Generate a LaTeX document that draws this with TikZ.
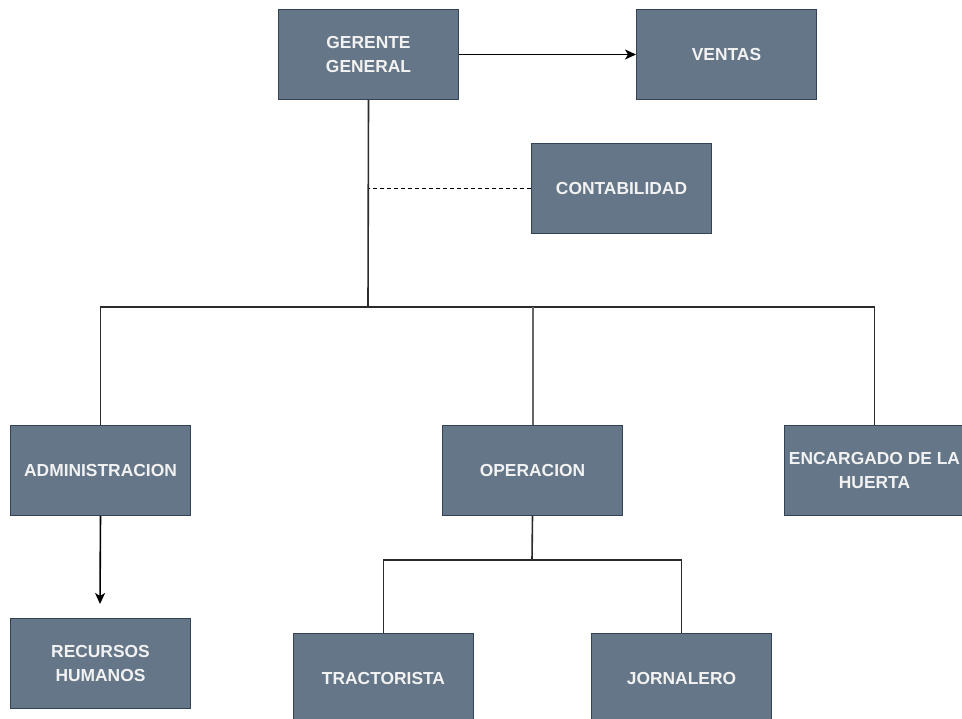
\documentclass[tikz,border=0pt]{standalone}
\usepackage{fontspec}
\setmainfont{Liberation Sans}
\usetikzlibrary{arrows.meta}
\definecolor{boxfill}{HTML}{647687}
\definecolor{boxline}{HTML}{314354}
\definecolor{wire}{HTML}{2B2B2B}
\definecolor{trunk}{HTML}{666666}
\definecolor{label}{HTML}{F2F2F2}
\begin{document}
\begin{tikzpicture}[x=1pt,y=-1pt,
  unit/.style={draw=boxline, line width=1pt, fill=boxfill,
    minimum width=180pt, minimum height=90pt, inner sep=0pt,
    text=label, font=\fontsize{17.4}{24}\selectfont\bfseries,
    align=center, anchor=north west},
  link/.style={draw=wire, line width=1.6pt},
  tip/.style={-{Stealth[length=11pt,width=10pt,inset=3pt]}}]
\clip (0,0) rectangle (962,719);
\fill[white] (0,0) rectangle (962,719);

% organisation units
\node[unit] (gg) at (278,9)   {GERENTE\\GENERAL};
\node[unit] (ve) at (636,9)   {VENTAS};
\node[unit] (co) at (531,143) {CONTABILIDAD};
\node[unit] (ad) at (10,425)  {ADMINISTRACION};
\node[unit] (op) at (442,425) {OPERACION};
\node[unit] (en) at (784,425) {ENCARGADO DE LA\\HUERTA};
\node[unit] (rh) at (10,618)  {RECURSOS\\HUMANOS};
\node[unit] (tr) at (293,633) {TRACTORISTA};
\node[unit] (jo) at (591,633) {JORNALERO};

% junction points
\coordinate (hub) at (368,307);
\coordinate (opsplit) at (532,560);
\coordinate (rhtip) at (100,604);

% top level
\draw[link, draw=black, tip] (gg.east) -- (ve.west);
\draw[link] (gg.south) -- (hub);
\draw[line width=1.2pt, draw=black, dash pattern=on 4pt off 3pt] (co.west) -- (co.west -| gg.south);

% second level
\draw[link] (ad.north) -- (ad.north |- hub) -- (en.north |- hub) -- (en.north);
\draw[link, draw=trunk, line width=2pt] (op.north) -- (op.north |- hub);

% administration branch
\draw[link, draw=black, tip] (ad.south) -- (rhtip);

% operation branch
\draw[link] (op.south) -- (opsplit);
\draw[link] (tr.north) -- (tr.north |- opsplit) -- (jo.north |- opsplit) -- (jo.north);
\end{tikzpicture}
\end{document}
